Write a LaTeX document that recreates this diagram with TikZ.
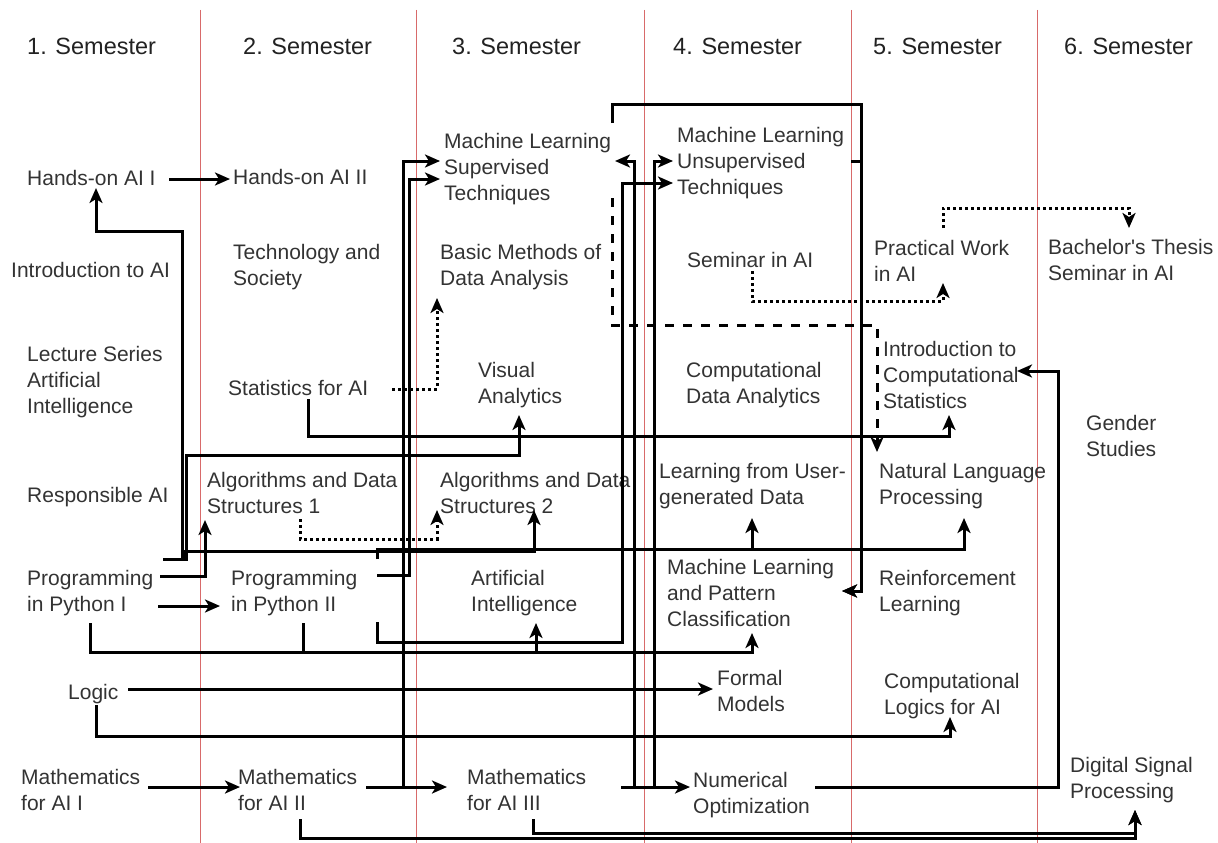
\documentclass[tikz,border=0pt]{standalone}
\usepackage{fontspec}
\setmainfont{Liberation Sans}
\usetikzlibrary{arrows.meta}
\definecolor{txtc}{HTML}{333333}
\definecolor{hdrc}{HTML}{222222}
\definecolor{redl}{HTML}{D86A6A}
\begin{document}
\begin{tikzpicture}[x=1pt,y=-1pt,
  txt/.style={font=\fontsize{21}{26}\selectfont, text=txtc, inner sep=0pt, anchor=west, align=left},
  hdr/.style={font=\fontsize{23.5}{28}\selectfont, text=hdrc, inner sep=0pt, anchor=west},
  redline/.style={draw=redl, line width=1pt},
  conn/.style={draw=black, line width=3pt},
  arr/.style={conn, -{Stealth[length=15pt,width=13pt,inset=4pt]}},
  dotarr/.style={arr, dash pattern=on 3pt off 3pt},
  dasharr/.style={arr, dash pattern=on 9pt off 9pt}]
\useasboundingbox (0,0) rectangle (1218,843);
\fill[white] (0,0) rectangle (1218,843);
% column separators
\foreach \xx in {200,416,644,851,1037} \draw[redline] (\xx,10) -- (\xx,843);
% headers
\node[hdr] (s1) at (27,46) {1. Semester};
\node[hdr] (s2) at (243,46) {2. Semester};
\node[hdr] (s3) at (452,46) {3. Semester};
\node[hdr] (s4) at (673,46) {4. Semester};
\node[hdr] (s5) at (873,46) {5. Semester};
\node[hdr] (s6) at (1064,46) {6. Semester};
% courses
\node[txt] (h1) at (27,178) {Hands-on AI I};
\node[txt] (h2) at (233,177) {Hands-on AI II};
\node[txt] (iai) at (11,270) {Introduction to AI};
\node[txt] (tas) at (233,267) {Technology and\\Society};
\node[txt] (mls) at (444,169) {Machine Learning\\Supervised\\Techniques};
\node[txt] (bm) at (440,267) {Basic Methods of\\Data Analysis};
\node[txt] (mlu) at (677,163) {Machine Learning\\Unsupervised\\Techniques};
\node[txt] (sem) at (687,260) {Seminar in AI};
\node[txt] (pw) at (874,261) {Practical Work\\in AI};
\node[txt] (bt) at (1048,260) {Bachelor\textquotesingle s Thesis\\Seminar in AI};
\node[txt] (ls) at (27,382) {Lecture Series\\Artificial\\Intelligence};
\node[txt] (st) at (228,388) {Statistics for AI};
\node[txt] (va) at (478,385) {Visual\\Analytics};
\node[txt] (cda) at (686,385) {Computational\\Data Analytics};
\node[txt] (ics) at (883,375) {Introduction to\\Computational\\Statistics};
\node[txt] (gs) at (1086,436) {Gender\\Studies};
\node[txt] (rai) at (27,497) {Responsible AI};
\node[txt] (ads1) at (207,493) {Algorithms and Data\\Structures 1};
\node[txt] (ads2) at (440,493) {Algorithms and Data\\Structures 2};
\node[txt] (lug) at (659,486) {Learning from User-\\generated Data};
\node[txt] (nlp) at (879,486) {Natural Language\\Processing};
\node[txt] (p1) at (27,593) {Programming\\in Python I};
\node[txt] (p2) at (231,593) {Programming\\in Python II};
\node[txt] (ai) at (471,593) {Artificial\\Intelligence};
\node[txt] (mlpc) at (667,593) {Machine Learning\\and Pattern\\Classification};
\node[txt] (rl) at (879,593) {Reinforcement\\Learning};
\node[txt] (lo) at (68,694) {Logic};
\node[txt] (fm) at (717,691) {Formal\\Models};
\node[txt] (cl) at (884,696) {Computational\\Logics for AI};
\node[txt] (m1) at (21,790) {Mathematics\\for AI I};
\node[txt] (m2) at (238,790) {Mathematics\\for AI II};
\node[txt] (m3) at (467,790) {Mathematics\\for AI III};
\node[txt] (no) at (693,795) {Numerical\\Optimization};
\node[txt] (dsp) at (1070,780) {Digital Signal\\Processing};
% solid connectors
\draw[arr] (169,179) -- (230,179); % h1 -> h2
\draw[arr] (163,559) -- (182,559) -- (182,231) -- (96,231) -- (96,188); % p1 -> h1
\draw[arr] (163,559) -- (186,559) -- (186,455) -- (519,455) -- (519,415); % p1 -> va
\draw[arr] (163,559) -- (183,559) -- (183,551) -- (534,551) -- (534,510); % p1 -> ads2
\draw[arr] (160,576) -- (205,576) -- (205,520); % p1 -> ads1
\draw[arr] (158,606) -- (220,606); % p1 -> p2
\draw[arr] (90,623) -- (90,652) -- (752,652) -- (752,633); % p1 -> mlpc
\draw[arr] (303,623) -- (303,652) -- (536,652) -- (536,623); % p2 -> ai
\draw[arr] (377,559) -- (377,549) -- (752,549) -- (752,518); % p2 -> lug
\draw[arr] (377,559) -- (377,549) -- (964,549) -- (964,518); % p2 -> nlp
\draw[arr] (377,575) -- (409,575) -- (409,179) -- (440,179); % p2 -> mls
\draw[arr] (377,622) -- (377,642) -- (622,642) -- (622,183) -- (673,183); % p2 -> mlu
\draw[arr] (148,787) -- (240,787); % m1 -> m2
\draw[arr] (366,787) -- (403,787) -- (403,161) -- (440,161); % m2 -> mls
\draw[arr] (366,787) -- (447,787); % m2 -> m3
\draw[arr] (300,819) -- (300,838) -- (1135,838) -- (1135,810); % m2 -> dsp
\draw[arr] (533,819) -- (533,833) -- (1135,833) -- (1135,810); % m3 -> dsp
\draw[arr] (621,787) -- (690,787); % m3 -> no
\draw[arr] (621,787) -- (634,787) -- (634,161) -- (615,161); % m3 -> mls
\draw[arr] (621,787) -- (654,787) -- (654,161) -- (673,161); % m3 -> mlu
\draw[arr] (815,787) -- (1058,787) -- (1058,371) -- (1017,371); % no -> ics
\draw[arr] (128,689) -- (713,689); % logic -> fm
\draw[arr] (96,705) -- (96,736) -- (950,736) -- (950,717); % logic -> cl
\draw[arr] (308,399) -- (308,436) -- (949,436) -- (949,415); % st -> ics
\draw[arr] (612,123) -- (612,104) -- (861,104) -- (861,591) -- (842,591); % mls -> mlpc
\draw[arr] (851,161) -- (861,161) -- (861,591) -- (842,591); % mlu -> mlpc
% dotted connectors
\draw[dotarr] (392,389) -- (437,389) -- (437,298); % st -> bm
\draw[dotarr] (300,519) -- (300,539) -- (437,539) -- (437,510); % ads1 -> ads2
\draw[dotarr] (752,271) -- (752,301) -- (943,301) -- (943,283); % sem -> pw
\draw[dotarr] (943,228) -- (943,208) -- (1129,208) -- (1129,228); % pw -> bt
% dashed connector
\draw[dasharr] (612,198) -- (612,325) -- (877,325) -- (877,452); % mls -> nlp
\end{tikzpicture}
\end{document}
